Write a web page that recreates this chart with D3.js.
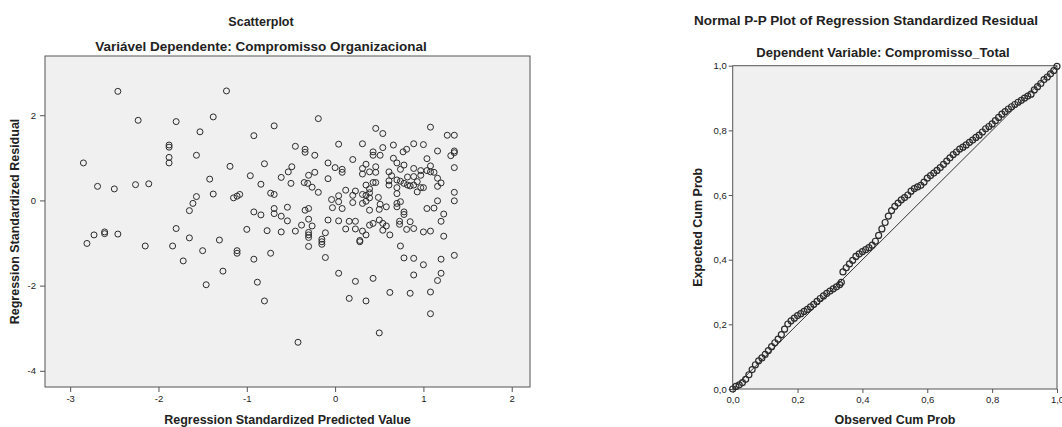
<!DOCTYPE html>
<html>
<head>
<meta charset="utf-8">
<script src="https://cdn.jsdelivr.net/npm/d3@7"></script>
<style>
  html, body { margin: 0; padding: 0; background: #ffffff; }
  svg { display: block; font-family: "Liberation Sans", Arial, sans-serif; }
</style>
</head>
<body>
<svg id="chart" width="1062" height="427"></svg>
<script>
// ---- Scatterplot: standardized predicted value vs standardized residual ----
const predicted = [
  -2.46,-1.23,-2.23,-1.80,-1.38,-1.53,-0.92,-0.69,-1.88,-1.88,
  -1.88,-1.88,-1.57,-2.85,-1.19,-0.80,-0.96,-0.61,-2.69,-2.50,
  -2.26,-2.11,-1.42,-0.84,-1.38,-1.57,-1.61,-1.65,-1.15,-1.11,
  -1.08,-0.73,-0.69,-0.69,-0.69,-0.92,-0.84,-0.61,-1.80,-1.00,
  -0.77,-0.61,-2.81,-2.73,-2.61,-2.61,-2.46,-2.15,-1.84,-1.65,
  -1.72,-1.50,-1.46,-1.31,-1.27,-1.11,-1.11,-0.92,-0.88,-0.80,
  -0.73,-0.19,0.46,-0.45,-0.34,-0.34,-0.23,0.04,0.31,0.43,
  0.43,0.20,-0.08,0.00,0.08,0.08,0.35,0.31,0.31,0.39,
  0.46,0.46,-0.49,-0.53,-0.30,-0.23,-0.08,-0.50,-0.35,-0.31,
  -0.26,-0.19,0.12,0.23,0.35,0.43,0.46,0.39,0.20,0.31,
  0.35,0.39,0.39,0.49,0.04,-0.04,0.04,-0.03,0.08,0.20,
  0.31,0.35,0.39,-0.54,-0.34,-0.30,-0.54,-0.45,-0.38,-0.30,
  -0.26,-0.30,-0.30,-0.30,-0.30,-0.15,-0.15,-0.15,-0.11,-0.08,
  -0.11,0.04,0.12,0.16,0.23,0.23,0.31,0.35,0.28,0.28,
  0.39,0.43,0.04,0.23,0.43,0.16,0.35,-0.42,1.08,1.27,
  1.35,0.54,0.54,0.51,0.66,0.77,0.81,0.89,1.00,1.16,
  1.35,1.35,1.31,1.35,1.04,0.66,0.70,0.74,0.78,0.89,
  0.97,1.04,1.08,1.08,1.12,1.16,1.20,1.16,0.61,0.64,
  0.61,0.61,0.70,0.74,0.82,0.89,0.97,0.78,0.82,0.85,
  0.89,0.93,0.93,0.97,1.00,0.70,0.70,1.35,0.51,0.50,
  0.58,0.70,0.70,0.74,0.78,0.78,1.16,1.35,1.04,1.12,
  1.23,1.20,0.50,0.54,0.58,0.54,0.62,0.73,0.73,0.85,
  0.81,0.89,1.00,1.08,1.23,0.74,0.78,0.89,1.00,1.20,
  1.35,0.89,1.20,1.16,0.62,0.85,1.08,0.50,1.08
];
const residual = [
  2.56,2.57,1.88,1.85,1.96,1.61,1.52,1.75,1.30,1.25,
  1.01,0.88,1.06,0.88,0.80,0.86,0.58,0.54,0.33,0.27,
  0.37,0.39,0.50,0.38,0.15,0.09,-0.07,-0.24,0.06,0.10,
  0.14,0.17,0.14,-0.19,-0.31,-0.27,-0.34,-0.37,-0.66,-0.68,
  -0.71,-0.74,-1.01,-0.81,-0.74,-0.78,-0.79,-1.07,-1.07,-0.88,
  -1.42,-1.18,-1.98,-0.93,-1.66,-1.18,-1.24,-1.38,-1.92,-2.36,
  -1.24,1.92,1.69,1.27,1.20,1.13,1.06,1.32,1.33,1.14,
  1.06,0.96,0.88,0.77,0.73,0.66,0.85,0.75,0.62,0.67,
  0.66,0.79,0.79,0.67,0.59,0.66,0.51,0.40,0.42,0.40,
  0.31,0.19,0.24,0.22,0.36,0.42,0.42,0.27,0.12,0.14,
  0.12,0.18,0.06,0.07,0.11,0.02,-0.03,-0.17,-0.19,-0.05,
  -0.07,-0.02,-0.23,-0.16,-0.23,-0.19,-0.48,-0.72,-0.58,-0.44,
  -0.60,-0.75,-0.81,-0.87,-1.08,-0.91,-0.97,-1.03,-0.76,-0.46,
  -1.34,-0.48,-0.67,-0.49,-0.49,-0.67,-0.72,-0.81,-0.97,-0.94,
  -0.58,-0.54,-1.71,-1.90,-1.83,-2.30,-2.36,-3.33,1.72,1.53,
  1.53,1.57,1.24,1.06,1.30,1.14,1.20,1.33,1.31,1.16,
  1.16,1.12,1.05,0.77,0.98,0.99,0.88,0.73,0.83,0.75,
  0.70,0.70,0.81,0.67,0.66,0.52,0.41,0.33,0.67,0.58,
  0.46,0.36,0.48,0.45,0.55,0.56,0.59,0.40,0.36,0.34,
  0.36,0.44,0.20,0.30,0.30,0.30,0.16,0.19,-0.09,-0.21,
  -0.15,-0.07,-0.15,-0.03,-0.27,-0.33,-0.01,-0.01,-0.19,-0.18,
  -0.32,-0.49,-0.46,-0.54,-0.60,-0.70,-0.81,-0.49,-0.56,-0.50,
  -0.68,-0.66,-0.74,-0.72,-0.84,-1.07,-1.35,-1.36,-1.51,-1.38,
  -1.29,-1.75,-1.71,-1.88,-2.16,-2.18,-2.15,-3.11,-2.66
];
const scatterXTicks = [-3, -2, -1, 0, 1, 2];
const scatterYTicks = [-4, -2, 0, 2];

// ---- Normal P-P plot of the standardized residual ----
const observedCum = [
  0.00,0.01,0.02,0.03,0.04,0.05,0.06,0.07,0.08,0.09,
  0.10,0.11,0.12,0.13,0.14,0.15,0.16,0.17,0.18,0.19,
  0.20,0.21,0.22,0.23,0.24,0.25,0.26,0.27,0.28,0.29,
  0.30,0.31,0.32,0.33,0.335,0.34,0.35,0.36,0.37,0.38,
  0.39,0.40,0.41,0.42,0.43,0.44,0.45,0.46,0.47,0.48,
  0.49,0.50,0.51,0.52,0.53,0.54,0.55,0.56,0.57,0.58,
  0.59,0.60,0.61,0.62,0.63,0.64,0.65,0.66,0.67,0.68,
  0.69,0.70,0.71,0.72,0.73,0.74,0.75,0.76,0.77,0.78,
  0.79,0.80,0.81,0.82,0.83,0.84,0.85,0.86,0.87,0.88,
  0.89,0.90,0.91,0.92,0.93,0.94,0.95,0.96,0.97,0.98,
  0.99,1.00
];
const expectedCum = [
  0.000,0.008,0.013,0.020,0.030,0.044,0.060,0.075,0.087,0.096,
  0.107,0.119,0.131,0.143,0.154,0.168,0.185,0.201,0.211,0.219,
  0.227,0.233,0.240,0.246,0.254,0.262,0.271,0.280,0.288,0.296,
  0.303,0.310,0.316,0.323,0.330,0.362,0.375,0.387,0.398,0.410,
  0.418,0.425,0.431,0.437,0.445,0.457,0.475,0.495,0.515,0.535,
  0.552,0.565,0.575,0.585,0.592,0.600,0.612,0.620,0.625,0.630,
  0.640,0.652,0.660,0.668,0.676,0.685,0.695,0.705,0.715,0.725,
  0.733,0.742,0.748,0.755,0.763,0.770,0.778,0.785,0.795,0.805,
  0.812,0.820,0.830,0.840,0.850,0.858,0.866,0.873,0.880,0.887,
  0.893,0.900,0.906,0.912,0.925,0.935,0.945,0.957,0.965,0.975,
  0.985,0.998
];
const ppTicks = [0, 0.2, 0.4, 0.6, 0.8, 1.0];

const svg = d3.select("#chart");
const plotBg = "#f0f0f0";
const frameColor = "#555555";
const markColor = "#2b2b2b";
const textColor = "#222222";

function styleAxis(g) {
  g.select(".domain").remove();
  g.selectAll(".tick line").attr("stroke", frameColor);
  g.selectAll(".tick text")
    .attr("fill", textColor)
    .attr("font-size", "9.5px")
    .attr("font-family", "'Liberation Sans', Arial, sans-serif");
}

function label(x, y, size, text, rotate) {
  return svg.append("text")
    .attr("transform", rotate ? `translate(${x},${y}) rotate(-90)` : `translate(${x},${y})`)
    .attr("text-anchor", "middle")
    .attr("font-size", size).attr("font-weight", "bold").attr("fill", textColor)
    .text(text);
}

// ================= Scatterplot =================
{
  const left = 45, right = 530, top = 56, bottom = 387;
  const x = d3.scaleLinear().domain([-3.285, 2.207]).range([left, right]);
  const y = d3.scaleLinear().domain([-4.38, 3.39]).range([bottom, top]);
  const plain = d => String(d);

  svg.append("rect")
    .attr("x", left).attr("y", top)
    .attr("width", right - left).attr("height", bottom - top)
    .attr("fill", plotBg).attr("stroke", frameColor).attr("stroke-width", 1);

  svg.append("g")
    .attr("transform", `translate(0,${bottom})`)
    .call(d3.axisBottom(x).tickValues(scatterXTicks).tickSize(5).tickPadding(3).tickFormat(plain))
    .call(styleAxis);

  svg.append("g")
    .attr("transform", `translate(${left},0)`)
    .call(d3.axisLeft(y).tickValues(scatterYTicks).tickSize(5).tickPadding(4).tickFormat(plain))
    .call(styleAxis);

  svg.append("g").selectAll("circle")
    .data(d3.zip(predicted, residual))
    .join("circle")
    .attr("cx", d => x(d[0]))
    .attr("cy", d => y(d[1]))
    .attr("r", 3)
    .attr("fill", "none")
    .attr("stroke", markColor)
    .attr("stroke-width", 1);

  label(261, 26, "12.5px", "Scatterplot");
  label(261, 51, "13.5px", "Variável Dependente: Compromisso Organizacional");
  label((left + right) / 2, 424, "12.5px", "Regression Standardized Predicted Value");
  label(19, (top + bottom) / 2, "12.5px", "Regression Standardized Residual", true);
}

// ================= Normal P-P plot =================
{
  const left = 732.7, right = 1057, top = 65.7, bottom = 389;
  const x = d3.scaleLinear().domain([0, 1]).range([left, right]);
  const y = d3.scaleLinear().domain([0, 1]).range([bottom, top]);
  const comma = d => d3.format(".1f")(d).replace(".", ",");

  svg.append("rect")
    .attr("x", left).attr("y", top)
    .attr("width", right - left).attr("height", bottom - top)
    .attr("fill", plotBg).attr("stroke", frameColor).attr("stroke-width", 1);

  svg.append("g")
    .attr("transform", `translate(0,${bottom})`)
    .call(d3.axisBottom(x).tickValues(ppTicks).tickSize(4).tickPadding(3).tickFormat(comma))
    .call(styleAxis);

  svg.append("g")
    .attr("transform", `translate(${left},0)`)
    .call(d3.axisLeft(y).tickValues(ppTicks).tickSize(4).tickPadding(2).tickFormat(comma))
    .call(styleAxis);

  // reference diagonal
  svg.append("line")
    .attr("x1", x(0)).attr("y1", y(0))
    .attr("x2", x(1)).attr("y2", y(1))
    .attr("stroke", "#333333").attr("stroke-width", 1);

  svg.append("g").selectAll("circle")
    .data(d3.zip(observedCum, expectedCum))
    .join("circle")
    .attr("cx", d => x(d[0]))
    .attr("cy", d => y(d[1]))
    .attr("r", 3)
    .attr("fill", "none")
    .attr("stroke", markColor)
    .attr("stroke-width", 1.2);

  label(866, 25, "13.5px", "Normal P-P Plot of Regression Standardized Residual");
  label(883, 57, "13px", "Dependent Variable: Compromisso_Total");
  label(895, 424, "12.5px", "Observed Cum Prob");
  label(702, (top + bottom) / 2, "12.5px", "Expected Cum Prob", true);
}
</script>
</body>
</html>
